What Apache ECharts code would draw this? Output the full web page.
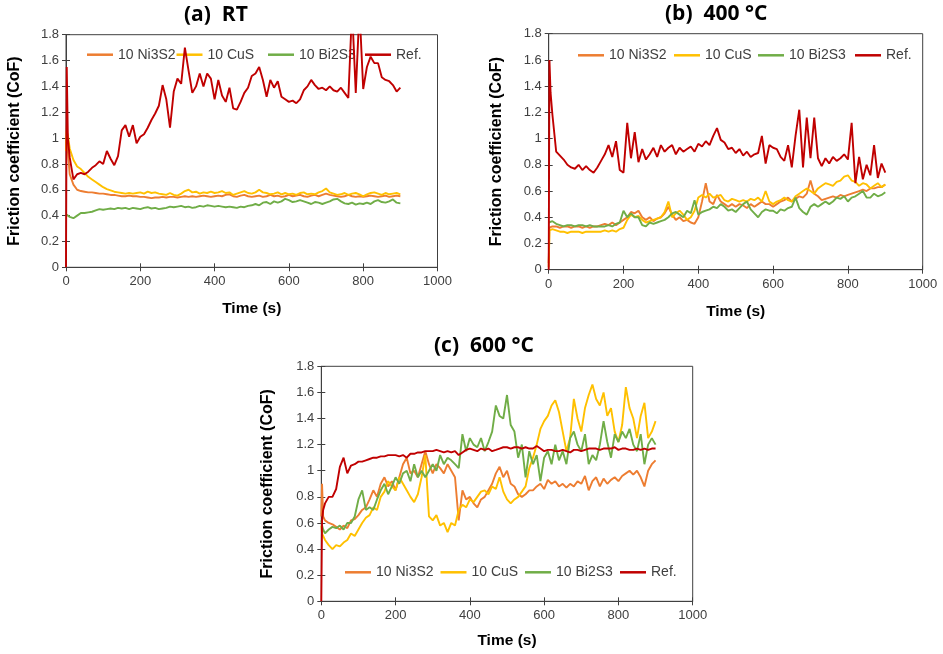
<!DOCTYPE html>
<html>
<head>
<meta charset="utf-8">
<script src="https://cdn.jsdelivr.net/npm/echarts@6/dist/echarts.min.js"></script>
<style>html,body{margin:0;padding:0;background:#fff}#c{width:943px;height:654px}</style>
</head>
<body>
<div id="c"></div>
<script>
// ---------- DATA ----------
const T = [0, 2, 5,
 10, 20, 30, 40, 50, 60, 70, 80, 90, 100,
 110, 120, 130, 140, 150, 160, 170, 180, 190, 200,
 210, 220, 230, 240, 250, 260, 270, 280, 290, 300,
 310, 320, 330, 340, 350, 360, 370, 380, 390, 400,
 410, 420, 430, 440, 450, 460, 470, 480, 490, 500,
 510, 520, 530, 540, 550, 560, 570, 580, 590, 600,
 610, 620, 630, 640, 650, 660, 670, 680, 690, 700,
 710, 720, 730, 740, 750, 760, 770, 780, 790, 800,
 810, 820, 830, 840, 850, 860, 870, 880, 890, 900];

const seriesNames = ['10 Ni3S2', '10 CuS', '10 Bi2S3', 'Ref.'];
const panelTitles = ['(a)  RT', '(b)  400 °C', '(c)  600 °C'];
const xTicks = [0, 200, 400, 600, 800, 1000];
const yTicks = [0, 0.2, 0.4, 0.6, 0.8, 1, 1.2, 1.4, 1.6, 1.8];
const xName = 'Time (s)';
const yName = 'Friction coefficient (CoF)';

// (a) RT
const niA = [0.9, 1.1, 0.9,
 0.72, 0.64, 0.60, 0.59, 0.585, 0.58, 0.58, 0.575, 0.57, 0.57,
 0.565, 0.56, 0.56, 0.555, 0.55, 0.55, 0.555, 0.55, 0.55, 0.545,
 0.545, 0.54, 0.535, 0.54, 0.54, 0.545, 0.54, 0.545, 0.545, 0.54,
 0.545, 0.55, 0.545, 0.55, 0.545, 0.55, 0.555, 0.55, 0.545, 0.55,
 0.555, 0.55, 0.56, 0.565, 0.55, 0.545, 0.555, 0.56, 0.55, 0.545,
 0.55, 0.555, 0.545, 0.55, 0.56, 0.55, 0.555, 0.545, 0.55, 0.56,
 0.55, 0.555, 0.56, 0.55, 0.545, 0.555, 0.56, 0.55, 0.56, 0.57,
 0.56, 0.555, 0.55, 0.545, 0.55, 0.56, 0.55, 0.545, 0.55, 0.545,
 0.55, 0.555, 0.55, 0.545, 0.55, 0.555, 0.545, 0.55, 0.555, 0.55];
const cuA = [0.9, 1.05, 1.02,
 0.92, 0.83, 0.78, 0.76, 0.73, 0.70, 0.68, 0.66, 0.64, 0.62,
 0.605, 0.595, 0.585, 0.58, 0.575, 0.57, 0.575, 0.57, 0.575, 0.58,
 0.57, 0.585, 0.575, 0.58, 0.57, 0.565, 0.56, 0.575, 0.56, 0.555,
 0.57, 0.59, 0.60, 0.58, 0.585, 0.57, 0.58, 0.575, 0.585, 0.575,
 0.58, 0.59, 0.575, 0.58, 0.56, 0.57, 0.58, 0.59, 0.575, 0.57,
 0.58, 0.60, 0.58, 0.575, 0.565, 0.57, 0.58, 0.565, 0.575, 0.565,
 0.57, 0.56, 0.575, 0.58, 0.565, 0.57, 0.565, 0.58, 0.59, 0.61,
 0.58, 0.57, 0.56, 0.565, 0.575, 0.56, 0.57, 0.575, 0.565, 0.55,
 0.565, 0.575, 0.58, 0.57, 0.56, 0.575, 0.565, 0.57, 0.575, 0.565];
const biA = [0.41, 0.41, 0.405,
 0.39, 0.38, 0.40, 0.42, 0.42, 0.425, 0.43, 0.44, 0.45, 0.445,
 0.45, 0.455, 0.45, 0.46, 0.455, 0.46, 0.45, 0.46, 0.455, 0.45,
 0.46, 0.465, 0.455, 0.46, 0.45, 0.455, 0.46, 0.47, 0.465, 0.47,
 0.475, 0.465, 0.47, 0.46, 0.465, 0.475, 0.47, 0.48, 0.475, 0.47,
 0.475, 0.47, 0.465, 0.47, 0.465, 0.46, 0.47, 0.465, 0.475, 0.48,
 0.49, 0.48, 0.50, 0.505, 0.49, 0.51, 0.50, 0.51, 0.53, 0.52,
 0.505, 0.51, 0.52, 0.51, 0.50, 0.49, 0.505, 0.50, 0.49, 0.50,
 0.51, 0.525, 0.53, 0.51, 0.495, 0.49, 0.50, 0.485, 0.495, 0.49,
 0.50, 0.49, 0.51, 0.52, 0.505, 0.50, 0.51, 0.525, 0.50, 0.495];
const refA = [0, 1.55, 1.0,
 0.85, 0.68, 0.72, 0.73, 0.72, 0.74, 0.77, 0.79, 0.82, 0.80,
 0.90, 0.84, 0.79, 0.86, 1.06, 1.10, 1.01, 1.10, 0.96, 1.01,
 1.03, 1.08, 1.14, 1.19, 1.25, 1.41, 1.30, 1.08, 1.36, 1.46,
 1.42, 1.70, 1.52, 1.35, 1.40, 1.50, 1.40, 1.50, 1.46, 1.30,
 1.45, 1.33, 1.28, 1.39, 1.23, 1.22, 1.28, 1.35, 1.39, 1.48,
 1.50, 1.55, 1.45, 1.32, 1.45, 1.39, 1.44, 1.32, 1.30, 1.28,
 1.29, 1.27, 1.30, 1.37, 1.40, 1.45, 1.41, 1.38, 1.39, 1.37,
 1.40, 1.37, 1.36, 1.39, 1.35, 1.31, 2.0, 1.35, 2.0, 1.38,
 1.55, 1.63, 1.58, 1.58, 1.47, 1.45, 1.44, 1.41, 1.36, 1.39];

// (b) 400 °C
const niB = [0.05, 0.32, 0.33,
 0.33, 0.33, 0.32, 0.33, 0.33, 0.32, 0.33, 0.33, 0.32, 0.33,
 0.32, 0.33, 0.33, 0.34, 0.35, 0.34, 0.36, 0.34, 0.36, 0.38,
 0.40, 0.44, 0.43, 0.45, 0.40, 0.38, 0.40, 0.37, 0.39, 0.40,
 0.43, 0.48, 0.42, 0.38, 0.40, 0.37, 0.38, 0.36, 0.35, 0.40,
 0.52, 0.66, 0.52, 0.50, 0.57, 0.52, 0.50, 0.48, 0.50, 0.48,
 0.50, 0.49, 0.47, 0.50, 0.48, 0.50, 0.52, 0.50, 0.50, 0.48,
 0.50, 0.52, 0.53, 0.55, 0.52, 0.54, 0.56, 0.55, 0.58, 0.68,
 0.58, 0.56, 0.53, 0.54, 0.55, 0.56, 0.55, 0.57, 0.56, 0.57,
 0.58, 0.59, 0.60, 0.61, 0.60, 0.62, 0.62, 0.63, 0.63, 0.65];
const cuB = [0.02, 0.30, 0.31,
 0.31, 0.30, 0.29, 0.29, 0.28, 0.29, 0.29, 0.29, 0.28, 0.29,
 0.29, 0.29, 0.29, 0.29, 0.30, 0.29, 0.30, 0.29, 0.31, 0.32,
 0.38, 0.42, 0.40, 0.41, 0.38, 0.36, 0.37, 0.38, 0.39, 0.40,
 0.44, 0.52, 0.40, 0.43, 0.45, 0.42, 0.38, 0.40, 0.45, 0.55,
 0.57, 0.55, 0.58, 0.55, 0.56, 0.57, 0.53, 0.52, 0.54, 0.53,
 0.52, 0.53, 0.52, 0.54, 0.53, 0.55, 0.52, 0.60, 0.52, 0.50,
 0.52, 0.53, 0.55, 0.53, 0.52, 0.56, 0.58, 0.60, 0.62, 0.60,
 0.58, 0.62, 0.64, 0.66, 0.65, 0.64, 0.67, 0.68, 0.71, 0.72,
 0.68, 0.67, 0.64, 0.66, 0.65, 0.62, 0.64, 0.66, 0.63, 0.65];
const biB = [0.36, 0.36, 0.36,
 0.37, 0.35, 0.34, 0.33, 0.34, 0.34, 0.33, 0.34, 0.34, 0.33,
 0.34, 0.33, 0.33, 0.33, 0.33, 0.34, 0.33, 0.35, 0.36, 0.45,
 0.40, 0.43, 0.40, 0.40, 0.34, 0.33, 0.36, 0.35, 0.36, 0.37,
 0.38, 0.40, 0.43, 0.44, 0.42, 0.40, 0.45, 0.43, 0.53, 0.42,
 0.44, 0.45, 0.46, 0.48, 0.47, 0.50, 0.48, 0.45, 0.46, 0.44,
 0.47, 0.50, 0.52, 0.46, 0.43, 0.40, 0.44, 0.46, 0.45, 0.45,
 0.43, 0.46, 0.45, 0.47, 0.48, 0.55, 0.47, 0.44, 0.42, 0.48,
 0.50, 0.48, 0.50, 0.52, 0.50, 0.52, 0.55, 0.54, 0.56, 0.52,
 0.55, 0.56, 0.58, 0.60, 0.55, 0.55, 0.58, 0.56, 0.57, 0.59];
const refB = [0, 1.60, 1.35,
 1.18, 0.90, 0.87, 0.84, 0.80, 0.78, 0.77, 0.80, 0.76, 0.79,
 0.76, 0.74, 0.78, 0.83, 0.88, 0.95, 0.86, 0.98, 0.76, 0.74,
 1.12, 0.85, 1.05, 0.82, 0.92, 0.84, 0.88, 0.93, 0.86, 0.95,
 0.90, 0.93, 0.95, 0.88, 0.93, 0.90, 0.92, 0.94, 0.90, 0.96,
 0.94, 0.98, 0.95, 1.02, 1.08, 0.99, 0.97, 0.92, 0.93, 0.89,
 0.92, 0.87, 0.90, 0.86, 0.88, 0.89, 1.02, 0.81, 0.95, 0.93,
 0.92, 0.86, 0.83, 0.95, 0.78, 1.02, 1.22, 0.78, 1.16, 0.85,
 1.16, 0.85, 0.79, 0.85, 0.81, 0.86, 0.83, 0.85, 0.88, 0.84,
 1.12, 0.66, 0.86, 0.69, 0.80, 0.72, 0.95, 0.70, 0.81, 0.74];

// (c) 600 °C
const niC = [0.65, 0.90, 0.65,
 0.62, 0.60, 0.59, 0.57, 0.55, 0.58, 0.56, 0.62, 0.63, 0.66,
 0.70, 0.72, 0.78, 0.85, 0.80, 0.90, 0.95, 0.88, 0.92, 0.85,
 0.95, 1.05, 1.10, 0.98, 1.00, 0.95, 1.05, 1.15, 1.05, 0.98,
 1.05, 1.02, 0.98, 1.05, 1.00, 0.95, 0.62, 0.85, 0.78, 0.80,
 0.75, 0.72, 0.78, 0.80, 0.85, 0.90, 0.98, 1.03, 0.95, 1.00,
 0.90, 0.88, 0.82, 0.80, 0.82, 0.85, 0.85, 0.88, 0.90, 0.86,
 0.93, 0.90, 0.92, 0.88, 0.90, 0.87, 0.90, 0.88, 0.92, 0.90,
 0.96, 0.85, 0.92, 0.95, 0.88, 0.94, 0.90, 0.93, 0.95, 0.92,
 0.96, 0.98, 1.00, 0.97, 1.00, 0.95, 0.88, 1.00, 1.05, 1.08];
const cuC = [0.58, 0.52, 0.50,
 0.47, 0.43, 0.40, 0.43, 0.42, 0.45, 0.47, 0.52, 0.50, 0.55,
 0.60, 0.64, 0.66, 0.72, 0.70, 0.80, 0.84, 0.92, 0.88, 0.85,
 0.95, 0.90, 0.85, 0.80, 0.76, 0.82, 0.95, 1.12, 0.65, 0.62,
 0.66, 0.58, 0.60, 0.53, 0.60, 0.58, 0.70, 0.74, 0.72, 0.78,
 0.76, 0.80, 0.84, 0.85, 0.82, 0.88, 0.86, 0.95, 0.84, 0.78,
 0.75, 0.78, 0.80, 0.84, 0.88, 1.02, 1.10, 1.20, 1.32, 1.38,
 1.42, 1.50, 1.54, 1.45, 1.30, 1.15, 1.25, 1.55, 1.40, 1.30,
 1.48, 1.58, 1.66, 1.55, 1.50, 1.60, 1.42, 1.48, 1.30, 1.22,
 1.35, 1.64, 1.48, 1.40, 1.25, 1.42, 1.52, 1.25, 1.30, 1.38];
const biC = [0.62, 0.58, 0.55,
 0.52, 0.55, 0.57, 0.56, 0.58, 0.55, 0.60, 0.60, 0.65, 0.78,
 0.85, 0.70, 0.72, 0.70, 0.78, 0.85, 0.90, 0.82, 0.88, 0.95,
 0.90, 0.98, 1.00, 0.92, 1.05, 0.95, 1.00, 0.95, 1.00, 1.05,
 1.00, 1.12, 1.05, 1.10, 1.08, 1.05, 1.02, 1.28, 1.15, 1.25,
 1.20, 1.18, 1.25, 1.15, 1.22, 1.30, 1.50, 1.42, 1.40, 1.58,
 1.35, 1.30, 1.10, 1.20, 0.95, 1.15, 1.05, 1.12, 0.92, 1.10,
 1.15, 1.05, 1.20, 1.08, 1.15, 1.05, 1.25, 1.30, 1.20, 1.15,
 1.28, 1.05, 1.12, 1.08, 1.20, 1.38, 1.22, 1.10, 1.28, 1.22,
 1.30, 1.25, 1.32, 1.20, 1.15, 1.28, 1.05, 1.20, 1.25, 1.20];
const refC = [0, 0.62, 0.70,
 0.75, 0.80, 0.80, 0.86, 1.03, 1.10, 0.98, 1.04, 1.05, 1.07,
 1.07, 1.08, 1.09, 1.10, 1.10, 1.11, 1.11, 1.12, 1.12, 1.12,
 1.11, 1.12, 1.10, 1.13, 1.13, 1.14, 1.14, 1.15, 1.15, 1.15,
 1.16, 1.15, 1.14, 1.15, 1.14, 1.15, 1.12, 1.14, 1.16, 1.17,
 1.16, 1.15, 1.17, 1.16, 1.17, 1.15, 1.16, 1.17, 1.18, 1.18,
 1.17, 1.18, 1.18, 1.17, 1.18, 1.17, 1.17, 1.19, 1.17, 1.15,
 1.16, 1.16, 1.15, 1.15, 1.16, 1.15, 1.14, 1.16, 1.16, 1.15,
 1.16, 1.17, 1.17, 1.17, 1.16, 1.17, 1.17, 1.17, 1.18, 1.16,
 1.17, 1.17, 1.16, 1.16, 1.17, 1.16, 1.17, 1.16, 1.17, 1.17];

const panelData = [[niA, cuA, biA, refA], [niB, cuB, biB, refB], [niC, cuC, biC, refC]];

// ---------- LAYOUT / STYLE ----------
const colors = ['#ED7D31', '#FFC000', '#70AD47', '#C00000'];
const grids = [
  {left: 66, top: 34.7, width: 371.5, height: 232.6},
  {left: 548.7, top: 33.7, width: 374, height: 236},
  {left: 321.3, top: 366.3, width: 371.4, height: 235}
];
const titlePos = [{left: 184, top: 5}, {left: 665, top: 4}, {left: 434, top: 336}];
const yNameGap = [43, 44, 46];
const xNameGap = [33, 34, 31];
const legendX = [[87, 176.5, 268, 365], [578, 674, 758, 855], [345, 440.5, 525, 620]];
const legendY = [55.7, 56.3, 573.3];

const axisColor = '#404040';
const labelFont = 'Liberation Sans, Arial, sans-serif';

const option = {
  animation: false,
  backgroundColor: '#fff',
  title: [], grid: [], xAxis: [], yAxis: [], series: [], legend: []
};

const xMin = xTicks[0], xMax = xTicks[xTicks.length - 1], xInt = xTicks[1] - xTicks[0];
const yMin = yTicks[0], yMax = yTicks[yTicks.length - 1], yInt = +(yTicks[1] - yTicks[0]).toFixed(2);

grids.forEach((g, p) => {
  option.title.push({
    text: panelTitles[p], left: titlePos[p].left, top: titlePos[p].top, padding: 0,
    textStyle: {fontFamily: 'Open Sans, sans-serif', fontWeight: 'bold', fontSize: 21, color: '#000'}
  });
  option.grid.push(Object.assign({show: true, borderColor: axisColor, borderWidth: 1, backgroundColor: 'transparent', containLabel: false}, g));
  option.xAxis.push({
    type: 'value', gridIndex: p, min: xMin, max: xMax, interval: xInt,
    name: xName, nameLocation: 'middle', nameGap: xNameGap[p],
    nameTextStyle: {fontFamily: labelFont, fontWeight: 'bold', fontSize: 15.5, color: '#000'},
    axisLine: {show: true, onZero: false, lineStyle: {color: axisColor, width: 1}},
    axisTick: {show: true, length: 4, lineStyle: {color: axisColor}},
    axisLabel: {fontFamily: labelFont, fontSize: 13, color: axisColor, margin: 8, formatter: v => String(v)},
    splitLine: {show: false}
  });
  option.xAxis.push({
    type: 'value', gridIndex: p, min: xMin, max: xMax, interval: xInt, position: 'bottom',
    axisLine: {show: false}, axisLabel: {show: false}, splitLine: {show: false},
    axisTick: {show: true, inside: true, length: 4, lineStyle: {color: axisColor}}
  });
  option.yAxis.push({
    type: 'value', gridIndex: p, min: yMin, max: yMax, interval: yInt,
    name: yName, nameLocation: 'middle', nameGap: yNameGap[p],
    nameTextStyle: {fontFamily: labelFont, fontWeight: 'bold', fontSize: 16, color: '#000'},
    axisLine: {show: true, onZero: false, lineStyle: {color: axisColor, width: 1}},
    axisTick: {show: true, length: 4, lineStyle: {color: axisColor}},
    axisLabel: {fontFamily: labelFont, fontSize: 13, color: axisColor, margin: 7, formatter: v => String(+v.toFixed(1))},
    splitLine: {show: false}
  });
  option.yAxis.push({
    type: 'value', gridIndex: p, min: yMin, max: yMax, interval: yInt, position: 'left',
    axisLine: {show: false}, axisLabel: {show: false}, splitLine: {show: false},
    axisTick: {show: true, inside: true, length: 4, lineStyle: {color: axisColor}}
  });
  panelData[p].forEach((vals, s) => {
    option.series.push({
      type: 'line', name: seriesNames[s], xAxisIndex: p * 2, yAxisIndex: p * 2,
      data: T.map((t, i) => [t, vals[i]]),
      showSymbol: false, symbol: 'none', smooth: false, clip: true,
      lineStyle: {color: colors[s], width: 1.9}, itemStyle: {color: colors[s]},
      z: 2 + s
    });
    option.legend.push({
      data: [seriesNames[s]], left: legendX[p][s], top: legendY[p] - 8, padding: 0,
      icon: 'rect', itemWidth: 26, itemHeight: 2.5, itemGap: 0,
      textStyle: {fontFamily: labelFont, fontSize: 14, color: '#404040'},
      selectedMode: false
    });
  });
});

const chart = echarts.init(document.getElementById('c'), null, {renderer: 'canvas'});
chart.setOption(option);
</script>
</body>
</html>
